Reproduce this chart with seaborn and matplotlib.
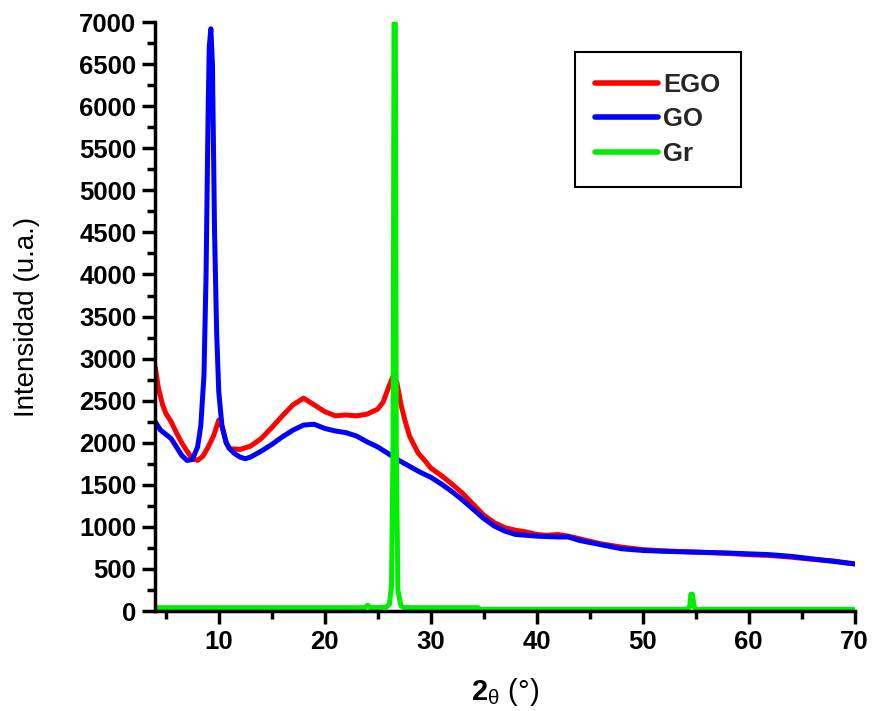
import numpy as np
import pandas as pd
import matplotlib
matplotlib.use("Agg")
import matplotlib.pyplot as plt
import seaborn as sns
from matplotlib.ticker import MultipleLocator

ego_x = [4.0, 4.3, 4.7, 5.0, 5.5, 6.0, 6.5, 7.0, 7.5, 8.0, 8.5, 9.0, 9.5, 10.0, 10.3, 10.7,
         11.0, 12.0, 13.0, 14.0, 15.0, 16.0, 17.0, 18.0, 19.0, 20.0, 21.0, 22.0, 23.0, 24.0,
         25.0, 25.5, 26.0, 26.4, 26.8, 27.2, 27.6, 28.0, 28.8, 29.5, 30.0, 31.0, 32.0, 33.0,
         34.0, 35.0, 36.0, 37.0, 38.0, 39.0, 40.0, 41.0, 42.0, 43.0, 44.0, 45.0, 46.0, 48.0,
         50.0, 52.0, 55.0, 58.0, 60.0, 62.0, 64.0, 66.0, 68.0, 70.0]
ego_y = [2900, 2650, 2450, 2350, 2250, 2120, 2000, 1900, 1810, 1790, 1840, 1950, 2080, 2270, 2200, 2000,
         1930, 1920, 1960, 2050, 2180, 2320, 2450, 2530, 2450, 2370, 2320, 2330, 2320, 2340,
         2400, 2480, 2650, 2780, 2720, 2450, 2250, 2080, 1880, 1780, 1700, 1610, 1510, 1400,
         1270, 1140, 1050, 990, 960, 940, 910, 900, 910, 890, 860, 830, 800, 760,
         730, 715, 700, 685, 670, 660, 640, 615, 595, 560]

go_x = [4.0, 4.5, 5.0, 5.5, 6.0, 6.5, 7.0, 7.5, 8.0, 8.3, 8.6, 8.8, 9.0, 9.1, 9.25, 9.4, 9.5,
        9.6, 9.8, 10.0, 10.3, 10.7, 11.0, 11.5, 12.0, 12.5, 13.0, 14.0, 15.0, 16.0, 17.0, 18.0,
        19.0, 20.0, 21.0, 22.0, 23.0, 24.0, 25.0, 26.0, 27.0, 28.0, 29.0, 30.0, 31.0, 32.0,
        33.0, 34.0, 35.0, 36.0, 37.0, 38.0, 40.0, 42.0, 43.0, 44.0, 46.0, 48.0, 50.0, 52.0,
        55.0, 58.0, 60.0, 62.0, 64.0, 66.0, 68.0, 70.0]
go_y = [2250, 2150, 2100, 2050, 1950, 1850, 1790, 1800, 1950, 2200, 2800, 4000, 6000, 6700, 6920, 6500, 5500,
        4500, 3300, 2600, 2200, 2000, 1930, 1870, 1830, 1810, 1830, 1900, 1980, 2070, 2150, 2210,
        2220, 2170, 2140, 2120, 2080, 2010, 1950, 1870, 1790, 1720, 1650, 1590, 1510, 1420,
        1320, 1210, 1100, 1010, 950, 910, 890, 880, 880, 840, 790, 740, 720, 710,
        700, 690, 680, 670, 650, 620, 590, 560]

gr_x = [4.0, 23.8, 24.05, 24.3, 25.8, 26.1, 26.3, 26.45, 26.55, 26.65, 26.75, 26.9, 27.2, 27.5,
        34.5, 34.6, 54.2, 54.45, 54.55, 54.7, 54.85, 55.1, 70.0]
gr_y = [40, 40, 70, 40, 45, 80, 300, 2000, 7600, 7600, 2000, 250, 60, 40,
        40, 20, 20, 60, 200, 200, 50, 20, 20]

series_names = ["EGO", "GO", "Gr"]
series_colors = ["#ff0000", "#0000ff", "#00ee00"]

df = pd.concat([
    pd.DataFrame({"x": ego_x, "y": ego_y, "s": "EGO"}),
    pd.DataFrame({"x": go_x, "y": go_y, "s": "GO"}),
    pd.DataFrame({"x": gr_x, "y": gr_y, "s": "Gr"}),
], ignore_index=True)

sns.set_theme(style="ticks")
plt.rcParams['font.family'] = ['Liberation Sans', 'DejaVu Sans']
plt.rcParams['mathtext.fontset'] = 'custom'
plt.rcParams['mathtext.rm'] = 'Liberation Sans'
plt.rcParams['mathtext.it'] = 'Liberation Sans'
plt.rcParams['mathtext.bf'] = 'Liberation Sans:bold'

fig = plt.figure(figsize=(8.72, 7.11), dpi=100)
ax = fig.add_axes([0.178, 0.1406, 0.802, 0.8284])

sns.lineplot(data=df, x="x", y="y", hue="s", hue_order=series_names,
             palette=dict(zip(series_names, series_colors)), estimator=None,
             sort=False, linewidth=3.6, ax=ax)

ax.set_xlim(4, 70)
ax.set_ylim(0, 7000)
ax.xaxis.set_major_locator(MultipleLocator(10))
ax.xaxis.set_minor_locator(MultipleLocator(5))
ax.yaxis.set_major_locator(MultipleLocator(500))
ax.yaxis.set_minor_locator(MultipleLocator(250))

for side in ["top", "right"]:
    ax.spines[side].set_visible(False)
for side in ["left", "bottom"]:
    ax.spines[side].set_linewidth(2.5)
    ax.spines[side].set_color("black")

ax.tick_params(which="major", direction="out", length=9.5, width=2.5, labelsize=18.5, colors="black", pad=4)
ax.tick_params(which="minor", direction="out", length=6, width=2.5, colors="black")
for lbl in ax.get_xticklabels() + ax.get_yticklabels():
    lbl.set_fontweight("bold")

ax.set_ylabel("Intensidad (u.a.)", fontsize=20, color="black", labelpad=28)
ax.set_xlabel(r"$\mathbf{2}_{\theta}$ (°)", fontsize=21, color="black", labelpad=16)

leg = ax.legend(loc="upper left", bbox_to_anchor=(0.6, 0.949), borderaxespad=0, frameon=True, fancybox=False,
                edgecolor="black", framealpha=1, handlelength=2.45, handletextpad=0.2,
                borderpad=0.8, labelspacing=0.42, prop={"size": 18.5, "weight": "bold"})
leg.get_frame().set_linewidth(1.5)
for h in leg.get_lines():
    h.set_linewidth(4)

fig.savefig("out.png", dpi=100)
